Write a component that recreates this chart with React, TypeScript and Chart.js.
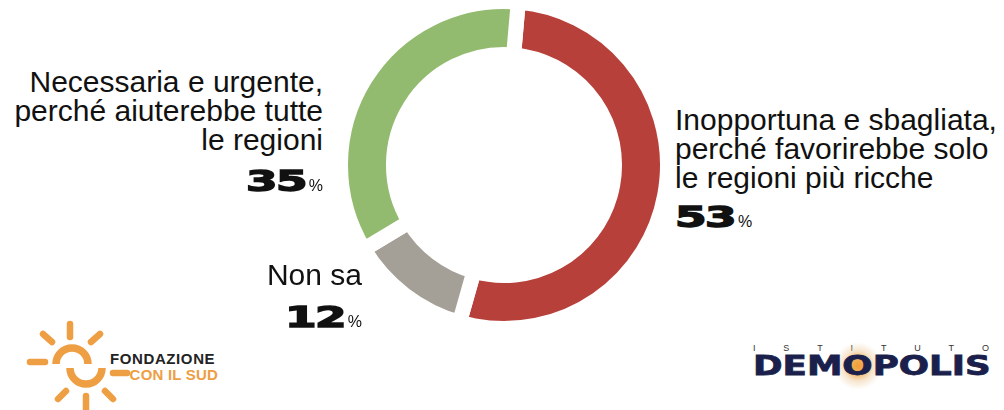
import React, { useEffect, useRef } from "react";
import Chart from "chart.js/auto";

// ---- data ----
const categories = [
  "Inopportuna e sbagliata, perché favorirebbe solo le regioni più ricche",
  "Non sa",
  "Necessaria e urgente, perché aiuterebbe tutte le regioni",
];
const labelLines = [
  ["Inopportuna e sbagliata,", "perché favorirebbe solo", "le regioni più ricche"],
  ["Non sa"],
  ["Necessaria e urgente,", "perché aiuterebbe tutte", "le regioni"],
];
const values = [53, 12, 35];
const colors = ["#B8403A", "#A49F97", "#93BB6F"];

// ---- layout (positions only) ----
const labelPos = [
  { align: "left", x: 675, base: 130, numBase: 228 },
  { align: "right", x: 362, base: 285, numBase: 328 },
  { align: "right", x: 323, base: 92, numBase: 192 },
];

const FONT = '"Liberation Sans", Arial, Helvetica, sans-serif';
const NUMFONT = '"DejaVu Sans", "Liberation Sans", sans-serif';

function Doughnut() {
  const ref = useRef<HTMLCanvasElement | null>(null);
  useEffect(() => {
    if (!ref.current) return;
    const chart = new Chart(ref.current, {
      type: "doughnut",
      data: {
        labels: categories,
        datasets: [
          {
            data: values,
            backgroundColor: colors,
            hoverBackgroundColor: colors,
            borderColor: "#ffffff",
            hoverBorderColor: "#ffffff",
            borderWidth: 15,
            hoverBorderWidth: 15,
            borderJoinStyle: "miter",
            offset: 0,
            hoverOffset: 0,
          },
        ],
      },
      options: {
        animation: false,
        responsive: false,
        rotation: 5,
        cutout: "67.6%",
        events: [],
        layout: { padding: 0 },
        plugins: { legend: { display: false }, tooltip: { enabled: false } },
      } as any,
    });
    return () => chart.destroy();
  }, []);
  return (
    <canvas
      ref={ref}
      width={342}
      height={342}
      style={{ position: "absolute", left: 333, top: -6, width: 342, height: 342 }}
    />
  );
}

function Label({ i }: { i: number }) {
  const p = labelPos[i];
  const lines = labelLines[i];
  const left = p.align === "left";
  const anchor: any = left ? { left: p.x } : { right: 1004 - p.x };
  const scale = 1.62;
  const natural = 37; // approx natural width of two digits
  return (
    <>
      <div
        style={{
          position: "absolute",
          top: p.base - 25.3,
          ...anchor,
          fontFamily: FONT,
          fontSize: 30,
          lineHeight: "29px",
          color: "#111",
          textAlign: p.align as any,
          whiteSpace: "nowrap",
        }}
      >
        {lines.map((l, k) => (
          <div key={k}>{l}</div>
        ))}
      </div>
      <div
        style={{
          position: "absolute",
          top: p.numBase - 23.7,
          ...anchor,
          fontFamily: NUMFONT,
          fontWeight: 700,
          fontSize: 28,
          lineHeight: "28px",
          color: "#111",
          whiteSpace: "nowrap",
        }}
      >
        <span
          style={{
            display: "inline-block",
            letterSpacing: -1,
            transform: `scaleX(${scale})`,
            transformOrigin: left ? "left" : "right",
            WebkitTextStroke: "1.4px #111",
            marginRight: left ? (scale - 1) * natural : 0,
          } as any}
        >
          {String(values[i])}
        </span>
        <span style={{ fontFamily: FONT, fontWeight: 400, fontSize: 16, marginLeft: 3 }}>%</span>
      </div>
    </>
  );
}

function FondazioneLogo() {
  const o = "#EE9E43";
  return (
    <>
      <svg
        width={140}
        height={100}
        style={{ position: "absolute", left: 0, top: 310 }}
        viewBox="0 310 140 100"
      >
        <g stroke={o} strokeWidth={6.5} strokeLinecap="round" fill="none">
          <line x1={70} y1={324} x2={70} y2={337} />
          <line x1={43} y1={334} x2={52} y2={342} />
          <line x1={100} y1={334} x2={91} y2={342} />
          <line x1={30} y1={362} x2={45} y2={362} />
          <line x1={113} y1={373} x2={127} y2={373} />
          <line x1={66} y1={391} x2={58} y2={399} />
          <line x1={105} y1={391} x2={113} y2={399} />
          <line x1={86} y1={396} x2={86} y2={409} />
        </g>
        <g stroke={o} strokeWidth={7.5} strokeLinecap="butt" fill="none">
          <path d="M 56 364 A 16 16 0 0 1 88 364" />
          <path d="M 70 368 A 16 16 0 0 0 102 368" />
        </g>
      </svg>
      <div
        style={{
          position: "absolute",
          left: 110,
          top: 351,
          fontFamily: FONT,
          fontWeight: 700,
          fontSize: 15,
          lineHeight: "15px",
          letterSpacing: 0.6,
          color: "#232323",
          whiteSpace: "nowrap",
        }}
      >
        FONDAZIONE
      </div>
      <div
        style={{
          position: "absolute",
          right: 1004 - 218,
          top: 367,
          fontFamily: FONT,
          fontWeight: 700,
          fontSize: 15,
          lineHeight: "15px",
          letterSpacing: 0.2,
          color: o,
          whiteSpace: "nowrap",
        }}
      >
        CON IL SUD
      </div>
    </>
  );
}

function DemopolisLogo() {
  const letters = ["I", "S", "T", "I", "T", "U", "T", "O"];
  return (
    <>
      <div
        style={{
          position: "absolute",
          left: 753,
          top: 343,
          width: 236,
          display: "flex",
          justifyContent: "space-between",
          fontFamily: FONT,
          fontSize: 9,
          lineHeight: "10px",
          color: "#333",
        }}
      >
        {letters.map((l, k) => (
          <span key={k}>{l}</span>
        ))}
      </div>
      <div
        style={{
          position: "absolute",
          left: 834,
          top: 342,
          width: 48,
          height: 48,
          borderRadius: "50%",
          background:
            "radial-gradient(circle, rgba(240,160,50,1) 0%, rgba(240,165,70,0.9) 20%, rgba(238,205,160,0.5) 45%, rgba(255,255,255,0) 70%)",
        }}
      />
      <div
        style={{
          position: "absolute",
          left: 753,
          top: 353,
          fontFamily: NUMFONT,
          fontWeight: 700,
          fontSize: 26,
          lineHeight: "26px",
          color: "#1B1F4B",
          whiteSpace: "nowrap",
          transform: "scaleX(1.37)",
          transformOrigin: "left",
          WebkitTextStroke: "0.8px #1B1F4B",
        } as any}
      >
        DEMOPOLIS
      </div>
    </>
  );
}

export default function App() {
  return (
    <div
      style={{
        position: "absolute",
        left: 0,
        top: 0,
        width: 1004,
        height: 410,
        overflow: "hidden",
        background: "#ffffff",
      }}
    >
      <Doughnut />
      {values.map((_, i) => (
        <Label key={i} i={i} />
      ))}
      <FondazioneLogo />
      <DemopolisLogo />
    </div>
  );
}
